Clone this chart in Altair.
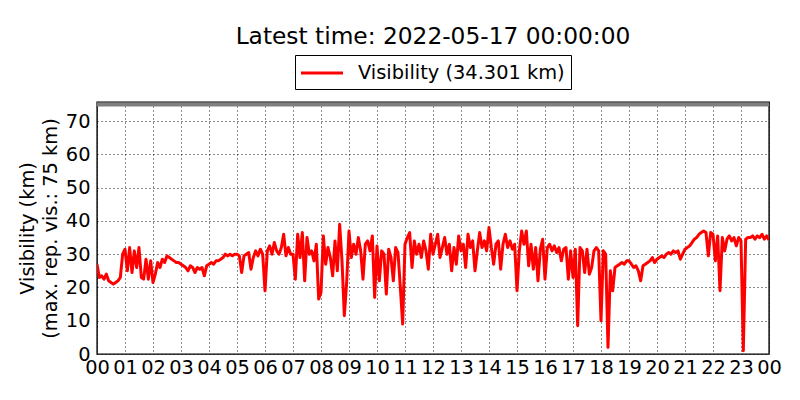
import altair as alt
import pandas as pd

title_text = "Latest time: 2022-05-17 00:00:00"
series_name = "Visibility (34.301 km)"
y_title = ["Visibility (km)", "(max. rep. vis.: 75 km)"]
max_rep_vis = 75
y_ticks = [0, 10, 20, 30, 40, 50, 60, 70]
x_ticks = list(range(25))
x_tick_labels = ["00", "01", "02", "03", "04", "05", "06", "07", "08", "09", "10", "11",
                 "12", "13", "14", "15", "16", "17", "18", "19", "20", "21", "22", "23", "00"]
step_minutes = 5

# visibility (km), one value every 5 minutes, one row per hour
vis_h00 = [27, 23, 23.5, 22.5, 24, 22, 21.5, 21, 21.5, 22, 23, 30]
vis_h01 = [31.5, 25, 32, 24.5, 31, 26, 32, 23, 22.5, 28.5, 22.5, 28]
vis_h02 = [21.5, 24, 27.5, 26, 28.5, 27.5, 29.5, 29, 28.5, 28, 27.5, 27.5]
vis_h03 = [27, 26.5, 26, 25, 26.5, 26, 24.5, 26, 25.5, 26, 23.5, 26.5]
vis_h04 = [27, 27.5, 27, 28, 28, 28.5, 29, 30, 29.5, 30, 29.5, 30]
vis_h05 = [30, 29.5, 24.5, 29.5, 30, 30.5, 25.5, 29, 31, 29.5, 31.5, 30]
vis_h06 = [19, 31, 32.5, 30, 33.5, 31, 30, 32, 36, 29.5, 32, 30]
vis_h07 = [30, 22.5, 36, 29, 36.5, 22, 35, 30, 31, 28, 33, 16.5]
vis_h08 = [18.5, 35.5, 27, 32, 29, 23.5, 34, 25, 39, 28, 11.5, 21.5]
vis_h09 = [37, 29, 33, 30, 35, 31, 22.5, 33, 34, 31, 35.5, 17]
vis_h10 = [32.5, 22, 31, 30, 18, 31.5, 29, 22, 32, 30.5, 20, 9]
vis_h11 = [33, 35, 36.5, 26, 34, 30, 33, 29, 34, 31, 25.5, 36]
vis_h12 = [30, 33, 36, 29, 32, 35, 30, 33, 25, 32, 27, 35.5]
vis_h13 = [31, 33, 26, 36, 32, 34, 25, 31, 36.5, 32, 34, 31]
vis_h14 = [38, 32, 27, 33, 34, 25.5, 33, 36, 32, 34, 31.5, 33]
vis_h15 = [19, 31, 37, 33, 37, 26.5, 33, 25.5, 32, 22, 31.5, 34.5]
vis_h16 = [22.5, 32, 33, 31, 32.5, 30.5, 32, 28, 31.5, 32, 22.5, 31]
vis_h17 = [23, 31.5, 8.5, 32, 31, 24.5, 31.5, 24, 26, 31, 32, 31]
vis_h18 = [10, 31, 30, 2, 25, 19, 26, 26.5, 27, 27.5, 27, 28]
vis_h19 = [28, 27, 26, 26.5, 25, 22, 26.5, 27, 27.5, 28, 29, 27.5]
vis_h20 = [28.5, 29, 29.5, 29, 30, 30.5, 30, 31, 30.5, 31, 28.5, 30]
vis_h21 = [31.5, 32, 32.5, 33.5, 34.5, 35, 36, 36.5, 37, 36.5, 29.5, 36.5]
vis_h22 = [36, 28, 35.5, 19, 35, 31, 34.5, 35.5, 34, 35, 32.5, 35]
vis_h23 = [34, 1, 34.5, 35, 35, 35.5, 34.5, 35.5, 35, 36, 34.5, 35.5]
vis_end = [34.301]

values = (vis_h00 + vis_h01 + vis_h02 + vis_h03 + vis_h04 + vis_h05 + vis_h06 + vis_h07
          + vis_h08 + vis_h09 + vis_h10 + vis_h11 + vis_h12 + vis_h13 + vis_h14 + vis_h15
          + vis_h16 + vis_h17 + vis_h18 + vis_h19 + vis_h20 + vis_h21 + vis_h22 + vis_h23
          + vis_end)
hours = [i * step_minutes / 60 for i in range(len(values))]

df = pd.DataFrame({"hour": hours, "vis": values, "series": series_name})
df_max = pd.DataFrame({"vis": [max_rep_vis]})

FONT = "DejaVu Sans"
label_expr = "[" + ",".join("'%s'" % s for s in x_tick_labels) + "][datum.value]"

y_enc = alt.Y(
    "vis:Q",
    scale=alt.Scale(domain=[0, 75.75], nice=False, zero=True),
    axis=alt.Axis(values=y_ticks, title=y_title, titleX=-64, titleY=126,
                  titleAngle=-90, titleBaseline="alphabetic", titleLineHeight=23,
                  labelPadding=7),
)

line = alt.Chart(df).mark_line(strokeWidth=3, strokeJoin="round", clip=True).encode(
    x=alt.X("hour:Q", scale=alt.Scale(domain=[0, 24], nice=False, zero=False),
            axis=alt.Axis(values=x_ticks, labelExpr=label_expr, title=None, labelPadding=4,
                          labelOverlap=False, labelFlush=False, labelBound=False)),
    y=y_enc,
    color=alt.Color("series:N", scale=alt.Scale(range=["#ff0000"]),
                    legend=alt.Legend(title=None, orient="none", legendX=198, legendY=-47,
                                      strokeColor="black", fillColor="white", padding=6,
                                      symbolType="M-2,0H2", symbolSize=441,
                                      symbolStrokeWidth=3, symbolOffset=9, labelOffset=24,
                                      labelLimit=500,
                                      labelFont=FONT, labelFontSize=19.4, labelColor="black")),
)

rule = alt.Chart(df_max).mark_rule(color="#808080", strokeWidth=4).encode(y=y_enc)

chart = alt.layer(line, rule).properties(
    width=672,
    height=252,
    title=alt.TitleParams(text=title_text, font=FONT, fontSize=23.3, fontWeight="normal",
                          color="black", anchor="middle", offset=5),
    padding={"left": 89, "top": 94, "right": 20, "bottom": 38},
    autosize=alt.AutoSizeParams(type="none"),
).configure_view(
    stroke="black", strokeWidth=1.4
).configure_axis(
    grid=True, gridColor="black", gridDash=[1, 3], gridWidth=1, gridOpacity=0.9,
    domain=False, ticks=False,
    labelFont=FONT, labelFontSize=19.4, labelColor="black",
    titleFont=FONT, titleFontSize=19.4, titleFontWeight="normal", titleColor="black",
)

chart.save("out.html", embed_options={"renderer": "svg", "actions": False})
